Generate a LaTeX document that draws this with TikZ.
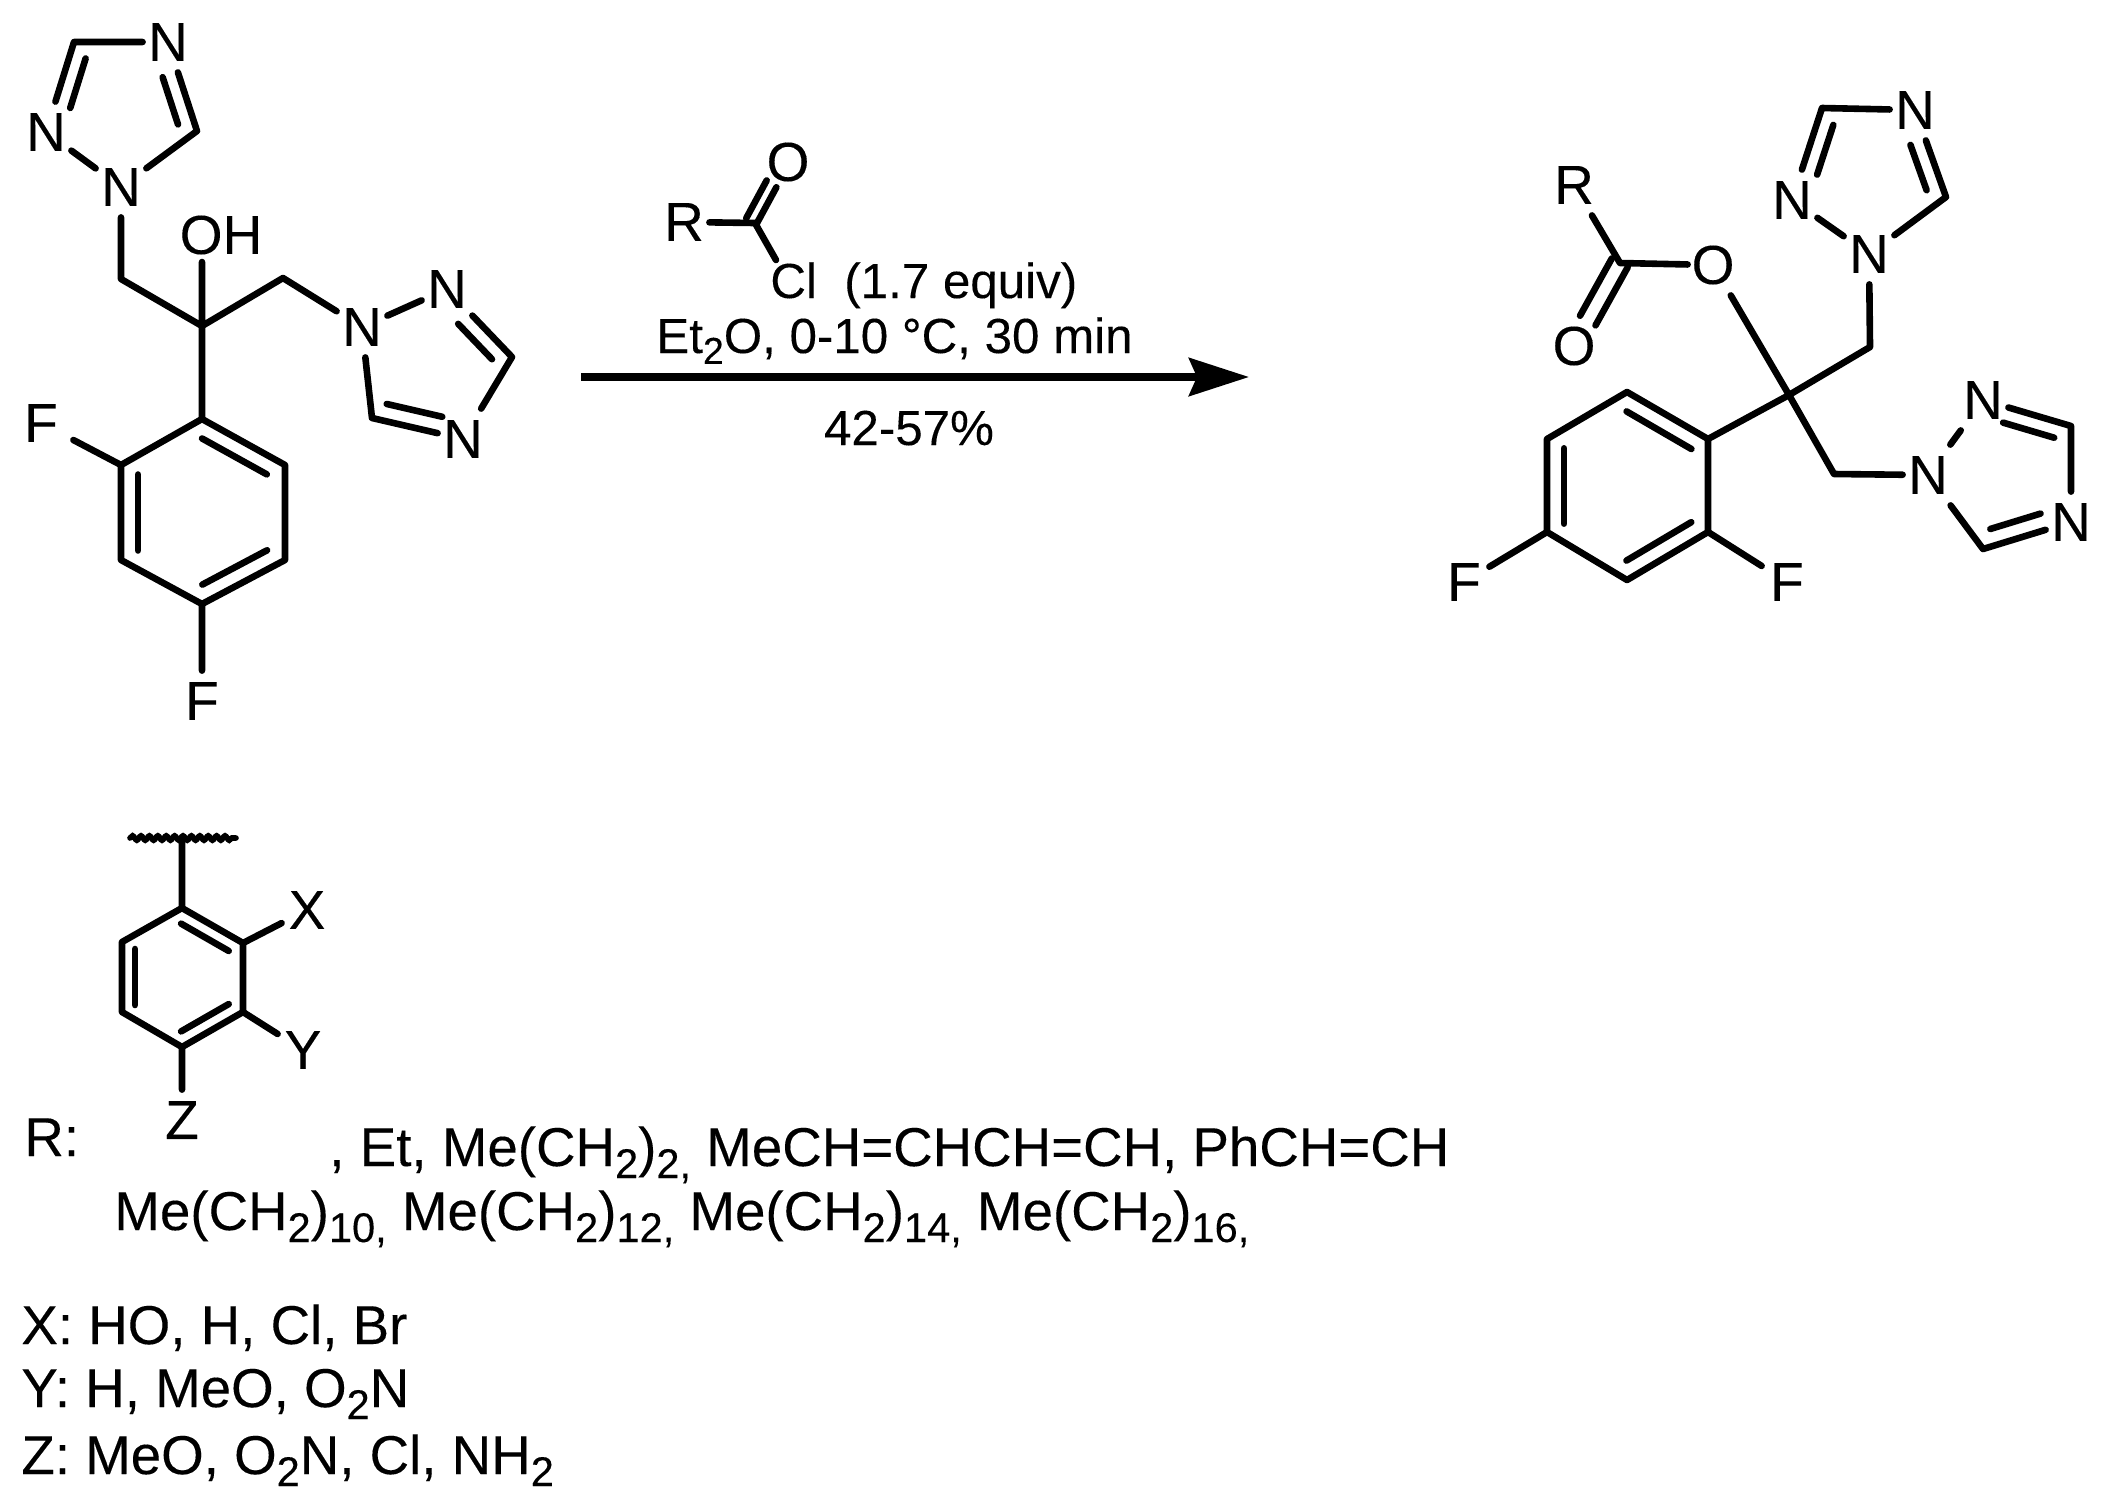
\documentclass[tikz,border=0pt]{standalone}
\usepackage{fontspec}
\usepackage{graphicx}
\setmainfont[FakeBold=0.2]{Liberation Sans}
\usetikzlibrary{calc,arrows.meta,decorations.pathmorphing}
\newcommand\chemdbl[5]{\draw[bond] ($(#1)!#3!(#2)!#5!90:(#2)$) -- ($(#1)!#4!(#2)!#5!90:(#2)$);}
\newcommand\chemsub[1]{\raisebox{-.22em}{\scalebox{.76}{#1}}}
\tikzset{
  bond/.style={line width=3.3pt,line cap=round,line join=round,black},
  atom/.style={rectangle,inner sep=0pt,minimum width=25pt,minimum height=30pt,font=\fontsize{27.5}{27.5}\selectfont},
  mainlabel/.style={inner sep=0pt,anchor=base west,font=\fontsize{27.35}{27.35}\selectfont},
  reagentlabel/.style={inner sep=0pt,font=\fontsize{24.65}{24.65}\selectfont},
  rxnarrow/.style={line width=3.7pt,-{Stealth[length=30pt,width=19pt,inset=4pt]}},
  wavy/.style={line width=2.8pt,line cap=round,decorate,decoration={snake,segment length=4.2pt,amplitude=1.1pt}}
}
\begin{document}
\begin{tikzpicture}[x=0.5pt,y=-0.5pt]
\useasboundingbox (0,0) rectangle (2107,1511);
\fill[white] (0,0) rectangle (2107,1511);
% --- left substrate
\node[atom] (aN1) at (121,187) {N};
\node[atom] (aNl) at (46,132) {N};
\node[atom] (aNt) at (168,42) {N};
\coordinate (aCt) at (74,42);
\coordinate (aCr) at (197,131);
\coordinate (aCH) at (121,279);
\coordinate (aC) at (202,326);
\node[atom,anchor=center] (aOH) at (221,235) {OH};
\coordinate (aOHend) at (202,262);
\coordinate (aCHr) at (283,278);
\node[atom] (bN1) at (362,327) {N};
\node[atom] (bN2) at (447,289) {N};
\coordinate (bC3) at (512,357);
\node[atom] (bN4) at (463,439) {N};
\coordinate (bC5) at (372,418);
\coordinate (p1) at (202,419);
\coordinate (p2) at (285,465);
\coordinate (p3) at (285,560);
\coordinate (p4) at (202,604);
\coordinate (p5) at (121,560);
\coordinate (p6) at (121,465);
\node[atom,minimum width=32pt] (pF1) at (41,423) {F};
\node[atom] (pF2) at (202,701) {F};
\draw[bond] (aN1)--(aNl) (aNl)--(aCt) (aCt)--(aNt) (aNt)--(aCr) (aCr)--(aN1);
\chemdbl{aNl}{aCt}{.32}{.87}{-8pt}
\chemdbl{aNt}{aCr}{.34}{.87}{-8pt}
\draw[bond] (aN1)--(aCH) (aCH)--(aC) (aC)--(aOHend) (aC)--(aCHr) (aCHr)--(bN1) (aC)--(p1);
\draw[bond] (bN1)--(bN2) (bN2)--(bC3) (bC3)--(bN4) (bN4)--(bC5) (bC5)--(bN1);
\chemdbl{bN2}{bC3}{.35}{.87}{-8pt}
\chemdbl{bN4}{bC5}{.27}{.88}{-8.5pt}
\draw[bond] (p1)--(p2) (p2)--(p3) (p3)--(p4) (p4)--(p5) (p5)--(p6) (p6)--(p1);
\chemdbl{p1}{p2}{.1}{.88}{-8.5pt}
\chemdbl{p3}{p4}{.12}{.9}{-8.5pt}
\chemdbl{p5}{p6}{.1}{.9}{-8.5pt}
\draw[bond] (p6)--(pF1) (p4)--(pF2);
% --- reagent
\node[atom] (rR) at (684,222) {R};
\coordinate (rC) at (755,223);
\node[atom] (rO) at (788,162) {O};
\coordinate (rClend) at (776,260);
\draw[bond] (rR)--(rC) (rC)--(rClend);
\chemdbl{rC}{rO}{0}{.62}{5pt}
\chemdbl{rC}{rO}{0}{.6}{-.9pt}
\node[reagentlabel,anchor=base west] (rCl) at (770,298) {Cl\ \ (1.7 equiv)};
\node[reagentlabel,anchor=base west] (rCond) at (656,353) {Et\chemsub{2}O, 0-10 °C, 30 min};
\node[reagentlabel,anchor=base] (rYield) at (909,445) {42-57\%};
\coordinate (arS) at (581,377);
\coordinate (arE) at (1249,377);
\draw[rxnarrow] (arS)--(arE);
% --- product
\node[atom] (uN1) at (1869,254) {N};
\node[atom] (uNl) at (1792,200) {N};
\coordinate (uCt) at (1822,108);
\node[atom] (uNt) at (1915,110) {N};
\coordinate (uCr) at (1946,197);
\coordinate (uCH) at (1870,347);
\coordinate (cC) at (1789,395);
\node[atom] (eO) at (1713,265) {O};
\coordinate (eC) at (1620,263);
\node[atom] (eR) at (1574,185) {R};
\node[atom] (eO2) at (1574,346) {O};
\coordinate (q1) at (1708,439);
\coordinate (q2) at (1708,532);
\coordinate (q3) at (1627,580);
\coordinate (q4) at (1547,532);
\coordinate (q5) at (1547,439);
\coordinate (q6) at (1627,392);
\node[atom] (qF1) at (1464,582) {F};
\node[atom] (qF2) at (1787,582) {F};
\coordinate (wCH) at (1834,474);
\node[atom] (w1) at (1928,475) {N};
\node[atom] (w2) at (1983,400) {N};
\coordinate (w3) at (2071,426);
\node[atom] (w4) at (2071,522) {N};
\coordinate (w5) at (1983,549);
\draw[bond] (uN1)--(uNl) (uNl)--(uCt) (uCt)--(uNt) (uNt)--(uCr) (uCr)--(uN1);
\chemdbl{uNl}{uCt}{.33}{.87}{-8pt}
\chemdbl{uNt}{uCr}{.34}{.86}{-8pt}
\draw[bond] (uN1)--(uCH) (uCH)--(cC) (cC)--(q1) (eO)--(cC) (cC)--(wCH) (wCH)--(w1);
\draw[bond] (eO)--(eC) (eC)--(eR);
\chemdbl{eC}{eO2}{0}{.69}{-4.7pt}
\chemdbl{eC}{eO2}{0}{.7}{4.4pt}
\draw[bond] (q1)--(q2) (q2)--(q3) (q3)--(q4) (q4)--(q5) (q5)--(q6) (q6)--(q1);
\chemdbl{q2}{q3}{.1}{.9}{-8.5pt}
\chemdbl{q4}{q5}{.09}{.9}{-8.5pt}
\chemdbl{q6}{q1}{.1}{.9}{-8.5pt}
\draw[bond] (q4)--(qF1) (q2)--(qF2);
\draw[bond] (w1)--(w2) (w2)--(w3) (w3)--(w4) (w4)--(w5) (w5)--(w1);
\chemdbl{w2}{w3}{.28}{.86}{-8pt}
\chemdbl{w4}{w5}{.29}{.86}{-8.5pt}
% --- R group
\coordinate (wavL) at (130,838);
\coordinate (wavR) at (236,838);
\coordinate (wavM) at (182,838);
\coordinate (r1) at (182,908);
\coordinate (r2) at (243,943);
\coordinate (r3) at (243,1012);
\coordinate (r4) at (182,1047);
\coordinate (r5) at (122,1012);
\coordinate (r6) at (122,942);
\node[atom] (rX) at (307,910) {X};
\node[atom] (rY) at (303,1050) {Y};
\node[atom] (rZ) at (182,1120) {Z};
\draw[wavy] (wavL)--(wavR);
\draw[bond] (wavM)--(r1) (r1)--(r2) (r2)--(r3) (r3)--(r4) (r4)--(r5) (r5)--(r6) (r6)--(r1);
\chemdbl{r1}{r2}{.1}{.88}{-7pt}
\chemdbl{r3}{r4}{.12}{.9}{-7pt}
\chemdbl{r5}{r6}{.1}{.9}{-6.5pt}
\draw[bond] (r2)--(rX) (r3)--(rY) (r4)--(rZ);
% --- legend
\node[mainlabel] (tR) at (24,1156) {R:};
\node[mainlabel] (tL1) at (329,1166) {, Et, Me(CH\chemsub{2})\chemsub{2,} MeCH=CHCH=CH, PhCH=CH};
\node[mainlabel] (tL2) at (114,1230) {Me(CH\chemsub{2})\chemsub{10,} Me(CH\chemsub{2})\chemsub{12,} Me(CH\chemsub{2})\chemsub{14,} Me(CH\chemsub{2})\chemsub{16,}};
\node[mainlabel] (tX) at (21,1344) {X: HO, H, Cl, Br};
\node[mainlabel] (tY) at (21,1407) {Y: H, MeO, O\chemsub{2}N};
\node[mainlabel] (tZ) at (21,1474) {Z: MeO, O\chemsub{2}N, Cl, NH\chemsub{2}};
\end{tikzpicture}
\end{document}
